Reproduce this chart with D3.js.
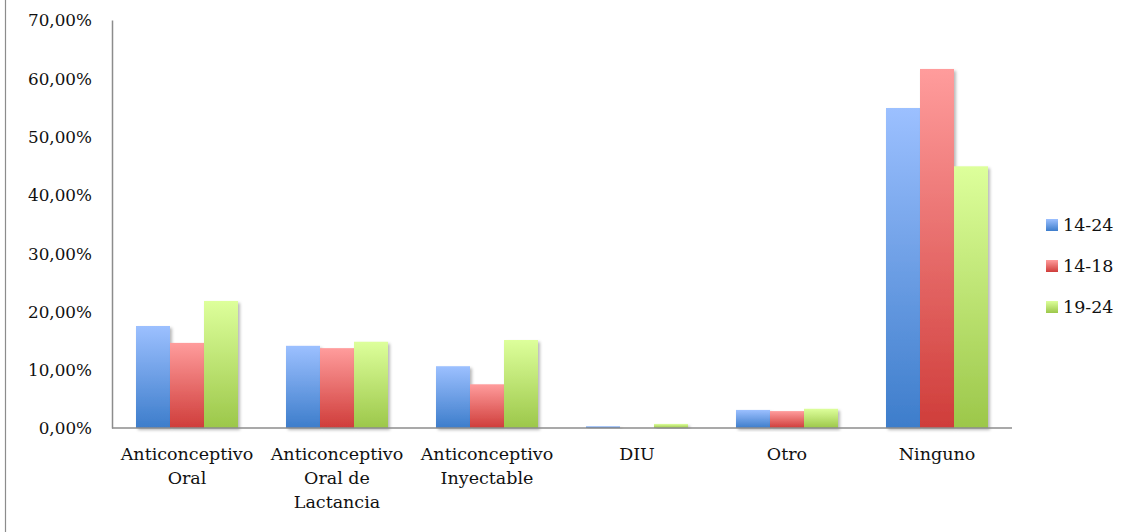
<!DOCTYPE html>
<html>
<head>
<meta charset="utf-8">
<script src="https://cdn.jsdelivr.net/npm/d3@7"></script>
<style>
  html, body { margin: 0; padding: 0; background: #fff; }
  svg { display: block; }
  text { font-family: "DejaVu Serif", serif; fill: #111; }
</style>
</head>
<body>
<svg id="chart" width="1146" height="532"></svg>
<script>
// Métodos anticonceptivos por grupo de edad
const categories = [
  ["Anticonceptivo", "Oral"],
  ["Anticonceptivo", "Oral de", "Lactancia"],
  ["Anticonceptivo", "Inyectable"],
  ["DIU"],
  ["Otro"],
  ["Ninguno"]
];
const seriesNames = ["14-24", "14-18", "19-24"];
const values1424 = [17.5, 14.1, 10.6, 0.3, 3.1, 54.9];
const values1418 = [14.6, 13.7, 7.5, 0.0, 2.9, 61.6];
const values1924 = [21.8, 14.8, 15.1, 0.7, 3.3, 44.9];
const yTicks = [0, 10, 20, 30, 40, 50, 60, 70];

const seriesValues = [values1424, values1418, values1924];
const gradients = [
  { id: "g-blue",  top: "#9cc0ff", bottom: "#3d7dcb" },
  { id: "g-red",   top: "#ff9c9c", bottom: "#cf3d3a" },
  { id: "g-green", top: "#ddff9b", bottom: "#9cc74a" }
];

const svg = d3.select("#chart");
const margin = { left: 112, right: 134, top: 20, bottom: 104 };
const W = 1146, H = 532;

const defs = svg.append("defs");
gradients.forEach(g => {
  const lg = defs.append("linearGradient").attr("id", g.id)
    .attr("x1", 0).attr("y1", 0).attr("x2", 0).attr("y2", 1);
  lg.append("stop").attr("offset", "0%").attr("stop-color", g.top);
  lg.append("stop").attr("offset", "100%").attr("stop-color", g.bottom);
});
const f = defs.append("filter").attr("id", "shadow")
  .attr("x", "-20%").attr("y", "-10%").attr("width", "160%").attr("height", "130%");
f.append("feDropShadow").attr("dx", 2).attr("dy", 2).attr("stdDeviation", 1.6)
  .attr("flood-color", "#000").attr("flood-opacity", 0.28);

// outer frame line on the left
svg.append("line").attr("x1", 5.5).attr("x2", 5.5).attr("y1", 0).attr("y2", H)
  .attr("stroke", "#8c8c8c").attr("stroke-width", 1.2);

const x = d3.scaleBand().domain(d3.range(categories.length))
  .range([margin.left, W - margin.right]).paddingInner(0.32).paddingOuter(0.16);
const xs = d3.scaleBand().domain(d3.range(seriesNames.length)).range([0, x.bandwidth()]);
const y = d3.scaleLinear().domain([0, 70]).range([H - margin.bottom, margin.top]);

// bars
seriesValues.forEach((vals, s) => {
  svg.append("g").selectAll("rect").data(vals).join("rect")
    .attr("x", (d, i) => x(i) + xs(s))
    .attr("width", xs.bandwidth())
    .attr("y", d => y(d))
    .attr("height", d => y(0) - y(d))
    .attr("fill", `url(#${gradients[s].id})`)
    .attr("filter", d => d > 0 ? "url(#shadow)" : null);
});

// y axis
const yAxis = svg.append("g").attr("transform", `translate(${margin.left},0)`)
  .call(d3.axisLeft(y).tickValues(yTicks).tickSize(0).tickPadding(20)
    .tickFormat(d => d3.format(".2f")(d).replace(".", ",") + "%"));
yAxis.select(".domain").attr("stroke", "#8c8c8c").attr("stroke-width", 1.5);
yAxis.selectAll("text").style("font-size", "16.8px").attr("dy", "0.35em");

// x axis
const xAxis = svg.append("g").attr("transform", `translate(0,${y(0)})`)
  .call(d3.axisBottom(x).tickSize(0).tickFormat(""));
xAxis.select(".domain").attr("stroke", "#8c8c8c").attr("stroke-width", 1.5)
  .attr("d", `M${margin.left},0H${W - margin.right}`);

const lab = svg.append("g");
categories.forEach((lines, i) => {
  const t = lab.append("text")
    .attr("x", x(i) + x.bandwidth() / 2)
    .attr("y", y(0) + 32)
    .attr("text-anchor", "middle")
    .style("font-size", "17.5px");
  lines.forEach((ln, j) => {
    t.append("tspan").attr("x", x(i) + x.bandwidth() / 2)
      .attr("dy", j === 0 ? 0 : 24).text(ln);
  });
});

// legend
const leg = svg.append("g").attr("transform", "translate(1046,219)");
seriesNames.forEach((name, s) => {
  const g = leg.append("g").attr("transform", `translate(0,${s * 41})`);
  g.append("rect").attr("width", 12).attr("height", 12)
    .attr("fill", `url(#${gradients[s].id})`);
  g.append("text").attr("x", 17).attr("y", 6).attr("dy", "0.35em")
    .style("font-size", "17.5px").text(name);
});
</script>
</body>
</html>
